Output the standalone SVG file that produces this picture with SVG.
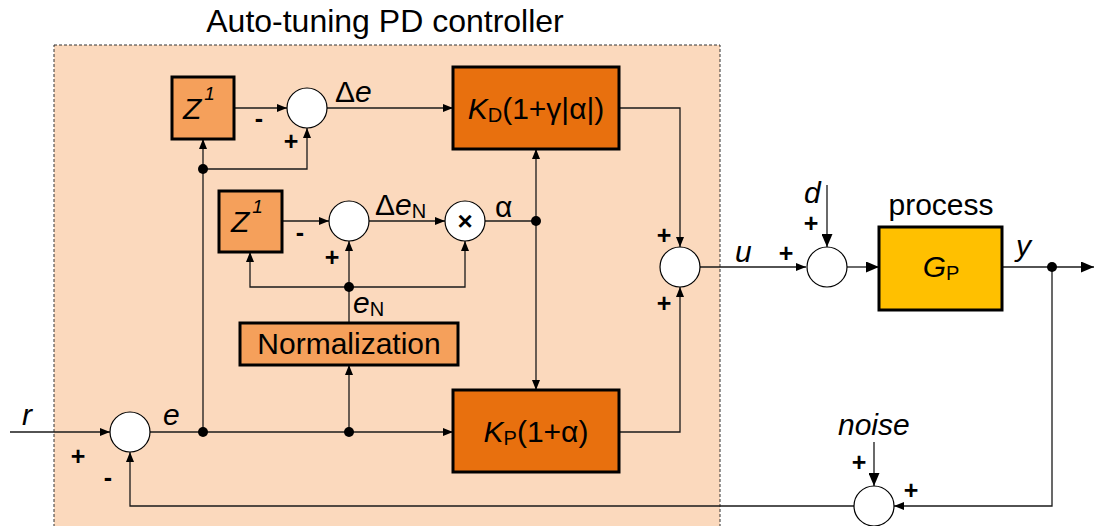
<svg xmlns="http://www.w3.org/2000/svg" width="1094" height="526" viewBox="0 0 1094 526">
<defs>
<marker id="a" markerUnits="userSpaceOnUse" markerWidth="10" markerHeight="8" refX="10" refY="4" orient="auto"><path d="M0,0 L10,4 L0,8 z" fill="#000"/></marker>
<marker id="b" markerUnits="userSpaceOnUse" markerWidth="13" markerHeight="11" refX="13" refY="5.5" orient="auto"><path d="M0,0 L13,5.5 L0,11 z" fill="#000"/></marker>
</defs>
<style>
text{font-family:"Liberation Sans",Arial,sans-serif;fill:#000}
.t{font-size:30px}
.i{font-style:italic}
.s{font-size:25px;font-weight:bold;text-anchor:middle}
.lt{fill:#F5A05B;stroke:#000;stroke-width:3}
.dk{fill:#E8700E;stroke:#000;stroke-width:3}
.sum{fill:#fff;stroke:#000;stroke-width:1.2}
.c path{fill:none;stroke:#1a1a1a;stroke-width:1.3}
.c circle{fill:#000}
</style>
<rect width="1094" height="526" fill="#fff"/>
<g id="controller">
<rect x="54" y="45" width="666" height="500" fill="#FBD9BD" stroke="#333" stroke-width="1" stroke-dasharray="3,2"/>
<text x="385" y="32" text-anchor="middle" font-size="32">Auto-tuning PD controller</text>
</g>
<g id="connectors" class="c">
<path d="M10,432 H110" marker-end="url(#a)"/>
<path d="M150,432 H453" marker-end="url(#a)"/>
<path d="M203,432 V139" marker-end="url(#a)"/>
<path d="M203,169 H307 V128" marker-end="url(#a)"/>
<path d="M234,108 H287" marker-end="url(#a)"/>
<path d="M327,108 H453" marker-end="url(#a)"/>
<path d="M282,221 H329" marker-end="url(#a)"/>
<path d="M369,221 H445" marker-end="url(#a)"/>
<path d="M485,221 H536"/>
<path d="M536,221 V149" marker-end="url(#a)"/>
<path d="M536,221 V390" marker-end="url(#a)"/>
<path d="M349,432 V365" marker-end="url(#a)"/>
<path d="M349,323 V287"/>
<path d="M349,287 V241" marker-end="url(#a)"/>
<path d="M349,287 H250 V252" marker-end="url(#a)"/>
<path d="M349,287 H465 V241" marker-end="url(#a)"/>
<path d="M619,108 H680 V247" marker-end="url(#a)"/>
<path d="M619,432 H680 V287" marker-end="url(#a)"/>
<path d="M700,267 H806" marker-end="url(#a)"/>
<path d="M827,185 V247" marker-end="url(#b)"/>
<path d="M847,267 H879" marker-end="url(#b)"/>
<path d="M1002,267 H1094" marker-end="url(#b)"/>
<path d="M1052,267 V506 H894" marker-end="url(#a)"/>
<path d="M874,442 V486" marker-end="url(#b)"/>
<path d="M854,506 H130 V452" marker-end="url(#a)"/>
<circle cx="203" cy="432" r="5"/>
<circle cx="349" cy="432" r="5"/>
<circle cx="203" cy="169" r="5"/>
<circle cx="349" cy="287" r="5"/>
<circle cx="536" cy="221" r="5"/>
<circle cx="1052" cy="267" r="5"/>
</g>
<g id="z1"><rect class="lt" x="172" y="77" width="62" height="62"/><text class="t i" x="183" y="119">Z<tspan font-size="19" dx="3" dy="-19">1</tspan></text></g>
<g id="z2"><rect class="lt" x="219" y="191" width="63" height="61"/><text class="t i" x="231" y="232">Z<tspan font-size="19" dx="3" dy="-19">1</tspan></text></g>
<g id="sum1"><circle class="sum" cx="307" cy="108" r="20"/></g>
<g id="sum2"><circle class="sum" cx="349" cy="221" r="20"/></g>
<g id="mult"><circle class="sum" cx="465" cy="221" r="20"/><text x="465" y="230" font-size="26" font-weight="bold" text-anchor="middle">×</text></g>
<g id="kd"><rect class="dk" x="453" y="67" width="166" height="82"/><text class="t" x="536" y="119" text-anchor="middle"><tspan class="i">K</tspan><tspan font-size="20" dy="3">D</tspan><tspan dy="-3">(1+γ|α|)</tspan></text></g>
<g id="kp"><rect class="dk" x="453" y="390" width="166" height="82"/><text class="t" x="536" y="442" text-anchor="middle"><tspan class="i">K</tspan><tspan font-size="20" dy="3">P</tspan><tspan dy="-3">(1+α)</tspan></text></g>
<g id="norm"><rect class="lt" x="240" y="323" width="218" height="42" stroke-width="2.5"/><text x="349" y="354" text-anchor="middle" font-size="30">Normalization</text></g>
<g id="sum0"><circle class="sum" cx="130" cy="432" r="20"/></g>
<g id="sum3"><circle class="sum" cx="680" cy="267" r="20"/></g>
<g id="sum4"><circle class="sum" cx="827" cy="267" r="20"/></g>
<g id="sum5"><circle class="sum" cx="874" cy="506" r="20"/></g>
<g id="process"><rect x="879" y="227" width="123" height="83" fill="#FFC000" stroke="#000" stroke-width="3"/><text class="t" x="941" y="215" text-anchor="middle">process</text><text class="t" x="941" y="277" text-anchor="middle"><tspan class="i">G</tspan><tspan font-size="20" dy="3">P</tspan></text></g>
<g id="labels">
<text class="t i" x="22" y="425">r</text>
<text class="t i" x="163" y="425">e</text>
<text class="t" x="335" y="102" font-size="31">Δ<tspan class="i">e</tspan></text>
<text class="t" x="375" y="215" font-size="31">Δ<tspan class="i">e</tspan><tspan font-size="20" dy="3">N</tspan></text>
<text class="t" x="495" y="217">α</text>
<text class="t" x="353" y="313"><tspan class="i">e</tspan><tspan font-size="20" dy="3">N</tspan></text>
<text class="t i" x="735" y="262">u</text>
<text class="t i" x="804" y="203">d</text>
<text class="t i" x="1016" y="256">y</text>
<text class="t i" x="838" y="435">noise</text>
<text class="s" x="259" y="127">-</text>
<text class="s" x="291" y="150">+</text>
<text class="s" x="300" y="241">-</text>
<text class="s" x="332" y="266">+</text>
<text class="s" x="664" y="244">+</text>
<text class="s" x="664" y="312">+</text>
<text class="s" x="786" y="262">+</text>
<text class="s" x="811" y="232">+</text>
<text class="s" x="859" y="471">+</text>
<text class="s" x="911" y="499">+</text>
<text class="s" x="78" y="465">+</text>
<text class="s" x="108" y="486">-</text>
</g>
</svg>
